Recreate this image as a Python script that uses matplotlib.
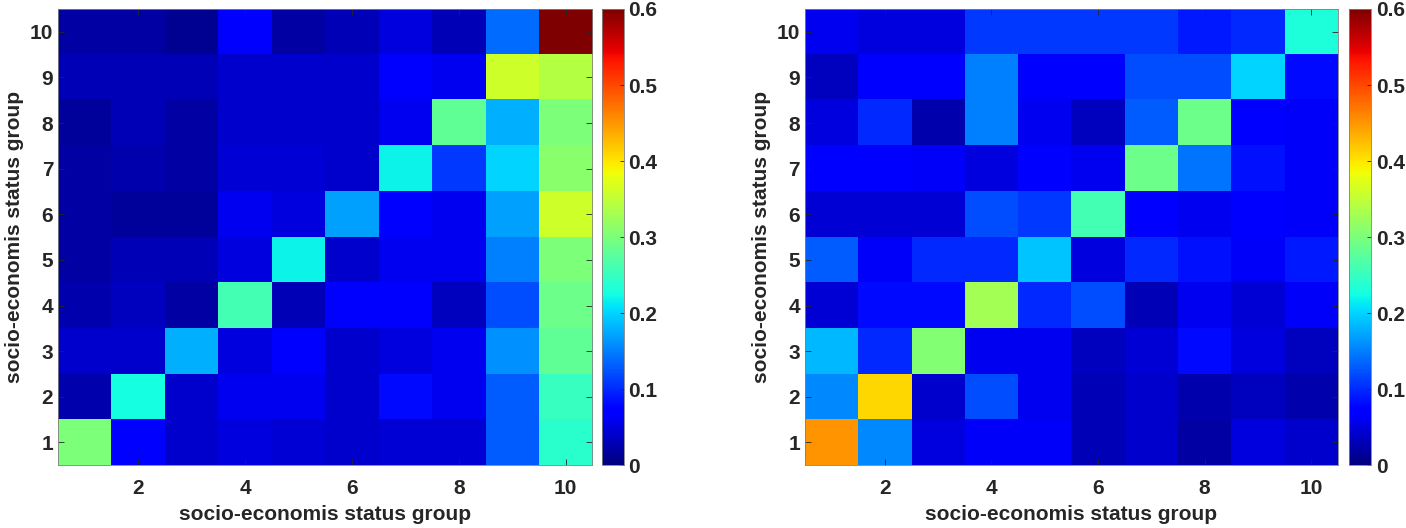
import numpy as np
import matplotlib
matplotlib.use('Agg')
import matplotlib.pyplot as plt

groups = list(range(1, 11))
xticks = [2, 4, 6, 8, 10]
cbar_ticks = [0, 0.1, 0.2, 0.3, 0.4, 0.5, 0.6]
cbar_labels = ['0', '0.1', '0.2', '0.3', '0.4', '0.5', '0.6']
axis_label = 'socio-economis status group'

# rows = y group 1..10 (bottom to top), columns = x group 1..10
left_matrix = [
    [0.30, 0.07, 0.04, 0.05, 0.045, 0.04, 0.045, 0.045, 0.13, 0.24],
    [0.025, 0.225, 0.04, 0.06, 0.06, 0.04, 0.08, 0.06, 0.13, 0.25],
    [0.04, 0.04, 0.18, 0.05, 0.07, 0.04, 0.05, 0.06, 0.16, 0.28],
    [0.025, 0.035, 0.02, 0.26, 0.03, 0.07, 0.07, 0.035, 0.12, 0.29],
    [0.02, 0.03, 0.03, 0.05, 0.22, 0.04, 0.06, 0.06, 0.15, 0.30],
    [0.02, 0.015, 0.015, 0.06, 0.05, 0.17, 0.07, 0.06, 0.17, 0.36],
    [0.02, 0.025, 0.02, 0.045, 0.045, 0.04, 0.22, 0.11, 0.20, 0.31],
    [0.015, 0.03, 0.02, 0.04, 0.04, 0.04, 0.06, 0.28, 0.18, 0.30],
    [0.03, 0.03, 0.03, 0.04, 0.04, 0.04, 0.07, 0.06, 0.36, 0.34],
    [0.02, 0.02, 0.01, 0.07, 0.02, 0.03, 0.05, 0.03, 0.14, 0.60],
]

right_matrix = [
    [0.45, 0.155, 0.05, 0.065, 0.065, 0.03, 0.04, 0.02, 0.05, 0.04],
    [0.155, 0.41, 0.04, 0.12, 0.06, 0.03, 0.04, 0.025, 0.035, 0.025],
    [0.185, 0.10, 0.305, 0.06, 0.06, 0.035, 0.045, 0.08, 0.05, 0.035],
    [0.045, 0.08, 0.08, 0.33, 0.10, 0.12, 0.03, 0.06, 0.045, 0.065],
    [0.13, 0.065, 0.10, 0.10, 0.19, 0.05, 0.10, 0.085, 0.065, 0.09],
    [0.045, 0.045, 0.045, 0.12, 0.11, 0.26, 0.07, 0.06, 0.07, 0.065],
    [0.07, 0.07, 0.065, 0.05, 0.07, 0.06, 0.29, 0.145, 0.085, 0.065],
    [0.05, 0.10, 0.025, 0.15, 0.06, 0.035, 0.13, 0.29, 0.07, 0.065],
    [0.035, 0.07, 0.07, 0.15, 0.07, 0.07, 0.12, 0.12, 0.20, 0.08],
    [0.06, 0.05, 0.05, 0.11, 0.11, 0.11, 0.11, 0.09, 0.10, 0.23],
]

plt.rcParams['font.family'] = ['Liberation Sans', 'DejaVu Sans']
plt.rcParams['font.weight'] = 'bold'
text_color = '#262626'

fig = plt.figure(figsize=(14.06, 5.28), dpi=100)

panels = [
    (left_matrix, [0.0413, 0.119, 0.380, 0.864], [0.428, 0.119, 0.0156, 0.864]),
    (right_matrix, [0.5725, 0.119, 0.379, 0.864], [0.9595, 0.119, 0.0156, 0.864]),
]

for data, ax_pos, cb_pos in panels:
    ax = fig.add_axes(ax_pos)
    im = ax.imshow(np.array(data), cmap='jet', vmin=0, vmax=0.6, origin='lower',
                   extent=[0.5, 10.5, 0.5, 10.5], aspect='auto', interpolation='nearest')
    ax.set_xticks(xticks)
    ax.set_yticks(groups)
    ax.tick_params(direction='in', top=True, right=True, labelsize=15,
                   colors=text_color, length=4, width=0.6)
    ax.tick_params(axis='x', pad=10)
    for lbl in ax.get_xticklabels() + ax.get_yticklabels():
        lbl.set_fontweight('bold')
    ax.set_xlabel(axis_label, fontsize=15, fontweight='bold', color=text_color, labelpad=5)
    ax.set_ylabel(axis_label, fontsize=15, fontweight='bold', color=text_color, labelpad=4)
    for sp in ax.spines.values():
        sp.set_color('#808080')
        sp.set_linewidth(0.6)

    cax = fig.add_axes(cb_pos)
    cb = fig.colorbar(im, cax=cax)
    cb.set_ticks(cbar_ticks)
    cb.set_ticklabels(cbar_labels)
    cax.tick_params(direction='in', labelsize=15, colors=text_color, length=3, width=0.6)
    for lbl in cax.get_yticklabels():
        lbl.set_fontweight('bold')
    cb.outline.set_edgecolor('#808080')
    cb.outline.set_linewidth(0.6)

fig.savefig('out.png', dpi=100)
